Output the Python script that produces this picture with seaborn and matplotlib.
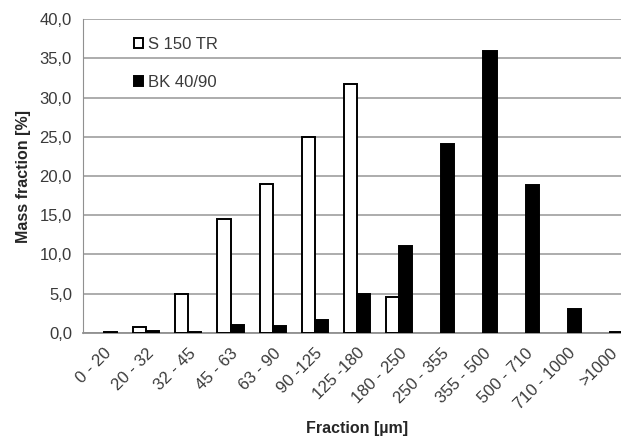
import pandas as pd
import matplotlib.pyplot as plt
import matplotlib.ticker as mticker
import seaborn as sns

# data
fractions = ['0 - 20', '20 - 32', '32 - 45', '45 - 63', '63 - 90', '90 -125', '125 -180',
             '180 - 250', '250 - 355', '355 - 500', '500 - 710', '710 - 1000', '>1000']
s150 = [0.0, 0.7, 5.0, 14.5, 19.0, 25.0, 31.7, 4.6, 0.0, 0.0, 0.0, 0.0, 0.0]
bk4090 = [0.1, 0.3, 0.1, 1.0, 0.9, 1.7, 5.0, 11.1, 24.1, 35.9, 18.9, 3.0, 0.1]
series = ['S 150 TR', 'BK 40/90']

df = pd.DataFrame({
    'Fraction': fractions * 2,
    'Mass': s150 + bk4090,
    'Sample': [series[0]] * len(fractions) + [series[1]] * len(fractions),
})
# zero values are not drawn in the original
df_plot = df[df['Mass'] > 0]

sns.set_style('white')
plt.rcParams['font.family'] = ['Liberation Sans', 'DejaVu Sans']

fig = plt.figure(figsize=(6.21, 4.40), dpi=100)
ax = fig.add_axes([0.1337, 0.2432, 0.8824, 0.7136])

sns.barplot(data=df_plot, x='Fraction', y='Mass', hue='Sample', order=fractions,
            hue_order=series, palette=['white', 'black'], width=0.62,
            edgecolor='black', linewidth=1.4, ax=ax, zorder=3)

ax.set_xlim(-0.5, len(fractions) - 0.5)
ax.set_ylim(0, 40)
ax.set_yticks(range(0, 41, 5))
ax.yaxis.set_major_formatter(mticker.FuncFormatter(lambda v, p: f'{v:.1f}'.replace('.', ',')))
ax.grid(axis='y', color='#a6a6a6', linewidth=1.3, zorder=0)
ax.set_axisbelow(True)

for s in ['top', 'right']:
    ax.spines[s].set_visible(False)
ax.spines['left'].set_color('#909090')
ax.spines['bottom'].set_color('#909090')
ax.spines['bottom'].set_linewidth(1.3)

# category boundary ticks on x, labels at centres
ax.set_xticks([i - 0.5 for i in range(len(fractions) + 1)], minor=True)
ax.tick_params(axis='x', which='minor', length=5, color='#909090', width=1)
ax.tick_params(axis='x', which='major', length=0, pad=9)
ax.tick_params(axis='y', length=5, color='#909090', width=1, pad=3)
ax.tick_params(labelsize=12, labelcolor='#3a3a3a')
plt.setp(ax.get_xticklabels(), rotation=45, ha='right', rotation_mode='anchor')

ax.set_xlabel('Fraction [µm]', fontsize=11.5, fontweight='bold', labelpad=6)
ax.set_ylabel('Mass fraction [%]', fontsize=11.5, fontweight='bold', labelpad=6)

ax.legend(loc='upper left', bbox_to_anchor=(0.065, 0.99), frameon=False,
          fontsize=12, handlelength=0.55, handleheight=0.55, handletextpad=0.3,
          labelspacing=1.35, labelcolor='#3a3a3a')

plt.savefig('out.png', dpi=100)
